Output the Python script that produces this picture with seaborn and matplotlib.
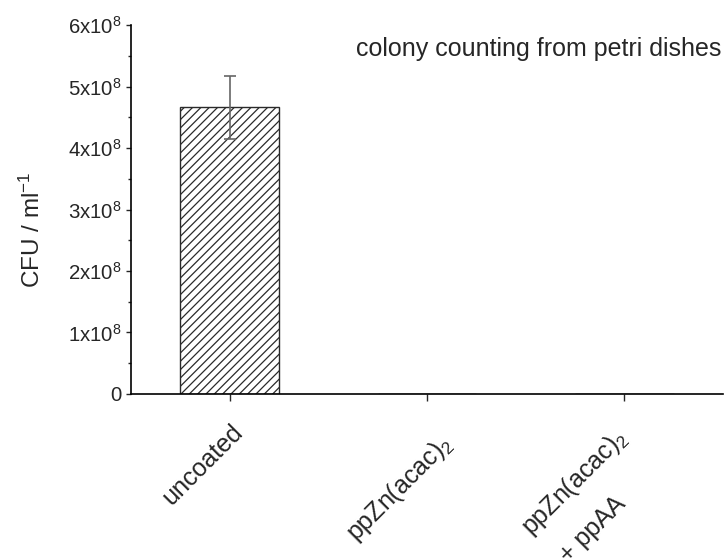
import matplotlib
matplotlib.use("Agg")
import matplotlib.pyplot as plt
import matplotlib.transforms as mtransforms
import numpy as np
import pandas as pd
import seaborn as sns

# colony counts
coatings = ["uncoated", "ppZn(acac)$_2$", "ppZn(acac)$_2$\n + ppAA"]
cfu_mean = [4.66e8, 0.0, 0.0]
cfu_err = [0.52e8, 0.0, 0.0]
y_ticks = [0, 1e8, 2e8, 3e8, 4e8, 5e8, 6e8]
y_tick_labels = ["0", "1x10$^8$", "2x10$^8$", "3x10$^8$", "4x10$^8$", "5x10$^8$", "6x10$^8$"]

# pixel offsets of each rotated x label centre from its tick (layout only)
_LABEL_SHIFT = [(-27, 64), (-27, 88), (-34, 97)]

sns.set_style("ticks")
plt.rcParams["font.family"] = ["Liberation Sans", "DejaVu Sans"]
plt.rcParams["mathtext.fontset"] = "custom"
plt.rcParams["mathtext.rm"] = "Liberation Sans"
plt.rcParams["mathtext.it"] = "Liberation Sans:italic"
plt.rcParams["hatch.linewidth"] = 0.9

df = pd.DataFrame({"coating": coatings, "cfu": cfu_mean})

fig = plt.figure(figsize=(7.28, 5.58), dpi=100)
ax = fig.add_axes([0.18, 0.294, 0.813, 0.661])

sns.barplot(data=df, x="coating", y="cfu", ax=ax, color="white", width=0.5,
            edgecolor="#2a2a2a", linewidth=1.0, hatch="////", errorbar=None)
# only the first bar has a visible error bar
ax.errorbar([0], cfu_mean[:1], yerr=cfu_err[:1], fmt="none", ecolor="#666666",
            elinewidth=1.2, capsize=4, capthick=1.2)

ax.set_xlim(-0.5, 2.5)
ax.set_ylim(0, 6e8)
ax.set_yticks(y_ticks)
ax.set_yticklabels(y_tick_labels, fontsize=14.7)
ax.set_yticks(np.arange(0.5e8, 6e8, 1e8), minor=True)
ax.tick_params(axis="y", which="major", length=3.6, width=1, direction="out", pad=3)
ax.tick_params(axis="y", which="minor", length=2.2, width=1, direction="out")
ax.tick_params(axis="x", which="major", length=5, width=1, direction="out", pad=0)

ax.set_xticks(range(len(coatings)))
ax.set_xticklabels(coatings, fontsize=18, rotation=45, ha="center",
                   rotation_mode="anchor", va="center", multialignment="left",
                   linespacing=2.0)
for lab, (dx, dy) in zip(ax.get_xticklabels(), _LABEL_SHIFT):
    shift = mtransforms.ScaledTranslation(dx / 100, -dy / 100, fig.dpi_scale_trans)
    lab.set_transform(lab.get_transform() + shift)

ax.set_xlabel("")
ax.set_ylabel("CFU / ml$^{-1}$", fontsize=17.5)
ax.yaxis.set_label_coords(-0.145, 0.445)

sns.despine(ax=ax)
for side in ["left", "bottom"]:
    ax.spines[side].set_linewidth(1.2)
    ax.spines[side].set_color("black")

ax.text(0.38, 0.935, "colony counting from petri dishes", transform=ax.transAxes,
        fontsize=18, ha="left", va="center")

fig.savefig("out.png", dpi=100)
